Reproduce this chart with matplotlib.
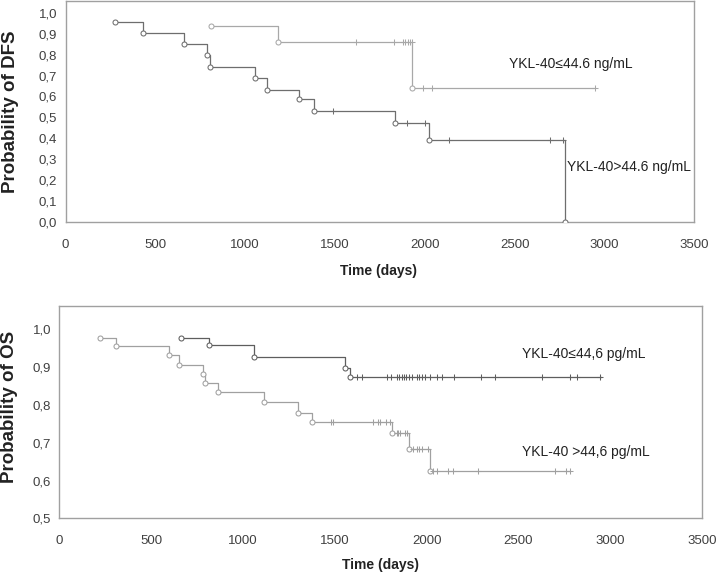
import numpy as np
import matplotlib
matplotlib.use("Agg")
import matplotlib.pyplot as plt
from matplotlib.ticker import FuncFormatter

plt.rcParams['font.family'] = ['Liberation Sans', 'DejaVu Sans']

# ---- DFS (top panel) ----
dfs_hi_start = (278, 0.957)
dfs_hi_evt_t = [432, 660, 790, 802, 1053, 1119, 1300, 1382, 1833, 2026, 2780]
dfs_hi_evt_s = [0.903, 0.849, 0.796, 0.742, 0.686, 0.633, 0.587, 0.530, 0.471, 0.391, 0.0]
dfs_hi_cens = [1490, 1901, 2000, 2137, 2699, 2769]
dfs_hi_end = 2780

dfs_lo_start = (812, 0.935)
dfs_lo_evt_t = [1182, 1929]
dfs_lo_evt_s = [0.858, 0.641]
dfs_lo_cens = [1617, 1827, 1880, 1892, 1904, 1916, 1927, 1990, 2040, 2949]
dfs_lo_end = 2949

# ---- OS (bottom panel) ----
os_hi_start = (220, 0.978)
os_hi_evt_t = [308, 598, 653, 783, 794, 865, 1112, 1297, 1377, 1811, 1902, 2018]
os_hi_evt_s = [0.955, 0.931, 0.907, 0.883, 0.859, 0.835, 0.809, 0.780, 0.755, 0.725, 0.683, 0.624]
os_hi_cens = [1478, 1490, 1706, 1733, 1746, 1778, 1800, 1836, 1846, 1856, 1880, 1895,
              1925, 1945, 1960, 1975, 2005, 2036, 2058, 2118, 2141, 2278, 2699, 2759, 2781]
os_hi_end = 2781

os_lo_start = (660, 0.978)
os_lo_evt_t = [814, 1061, 1555, 1582]
os_lo_evt_s = [0.958, 0.928, 0.899, 0.873]
os_lo_cens = [1622, 1646, 1785, 1804, 1840, 1852, 1864, 1876, 1890, 1905, 1918, 1946,
              1960, 1973, 1990, 2018, 2055, 2082, 2150, 2295, 2373, 2628, 2781, 2821, 2945]
os_lo_end = 2950

x_ticks = [0, 500, 1000, 1500, 2000, 2500, 3000, 3500]
dfs_yticks = [0.0, 0.1, 0.2, 0.3, 0.4, 0.5, 0.6, 0.7, 0.8, 0.9, 1.0]
os_yticks = [0.5, 0.6, 0.7, 0.8, 0.9, 1.0]

SPINE = "#a0a0a0"
TICKC = "#404040"


def km_curve(ax, start, evt_t, evt_s, cens, end, color):
    t = np.r_[start[0], evt_t, end]
    s = np.r_[start[1], evt_s, evt_s[-1]]
    ax.step(t, s, where="post", color=color, lw=0.9, zorder=2)
    # circles at events (incl. first)
    ax.plot(np.r_[start[0], evt_t], np.r_[start[1], evt_s], "o", ms=3.6,
            mfc="white", mec=color, mew=0.75, zorder=3)
    # censor ticks sit on the current step level
    idx = np.searchsorted(t, cens, side="right") - 1
    ax.plot(cens, s[idx], "+", ms=5, mew=0.75, color=color, zorder=3)


def style_axes(ax, yticks, ylim):
    ax.set_xlim(0, 3500)
    ax.set_ylim(*ylim)
    ax.set_xticks(x_ticks)
    ax.set_yticks(yticks)
    ax.yaxis.set_major_formatter(FuncFormatter(lambda v, p: f"{v:.1f}".replace(".", ",")))
    for sp in ax.spines.values():
        sp.set_color(SPINE)
        sp.set_linewidth(1.0)
    ax.tick_params(length=0, labelsize=9.5, colors=TICKC)
    ax.tick_params(axis="x", pad=12)
    ax.tick_params(axis="y", pad=6)


fig = plt.figure(figsize=(7.17, 5.74), dpi=100)

ax1 = fig.add_axes([65.5 / 717, 352 / 574, 628.8 / 717, 221 / 574])
km_curve(ax1, dfs_hi_start, dfs_hi_evt_t, dfs_hi_evt_s, dfs_hi_cens, dfs_hi_end, "#6e6e6e")
km_curve(ax1, dfs_lo_start, dfs_lo_evt_t, dfs_lo_evt_s, dfs_lo_cens, dfs_lo_end, "#a8a8a8")
style_axes(ax1, dfs_yticks, (0, 1.056))
ax1.text(2468, 0.757, "YKL-40≤44.6 ng/mL", fontsize=10, color="#222222", va="center")
ax1.text(2790, 0.263, "YKL-40>44.6 ng/mL", fontsize=10, color="#222222", va="center")

ax2 = fig.add_axes([59.5 / 717, 55.7 / 574, 642.5 / 717, 212.3 / 574])
km_curve(ax2, os_lo_start, os_lo_evt_t, os_lo_evt_s, os_lo_cens, os_lo_end, "#5e5e5e")
km_curve(ax2, os_hi_start, os_hi_evt_t, os_hi_evt_s, os_hi_cens, os_hi_end, "#a0a0a0")
style_axes(ax2, os_yticks, (0.5, 1.062))
ax2.text(2518, 0.935, "YKL-40≤44,6 pg/mL", fontsize=10, color="#222222", va="center")
ax2.text(2518, 0.675, "YKL-40 >44,6 pg/mL", fontsize=10, color="#222222", va="center")

# axis titles
fig.text(379 / 717, 1 - 270.5 / 574, "Time (days)", fontsize=10, fontweight="bold",
         ha="center", va="center", color="#222222")
fig.text(381 / 717, 1 - 565 / 574, "Time (days)", fontsize=10, fontweight="bold",
         ha="center", va="center", color="#222222")
fig.text(10.5 / 717, 1 - 112 / 574, "Probability of DFS", fontsize=13.5, fontweight="bold",
         rotation=90, ha="center", va="center", color="#222222")
fig.text(9.5 / 717, 1 - 407 / 574, "Probability of OS", fontsize=13.5, fontweight="bold",
         rotation=90, ha="center", va="center", color="#222222")

fig.savefig("out.png", dpi=100)
plt.close(fig)
